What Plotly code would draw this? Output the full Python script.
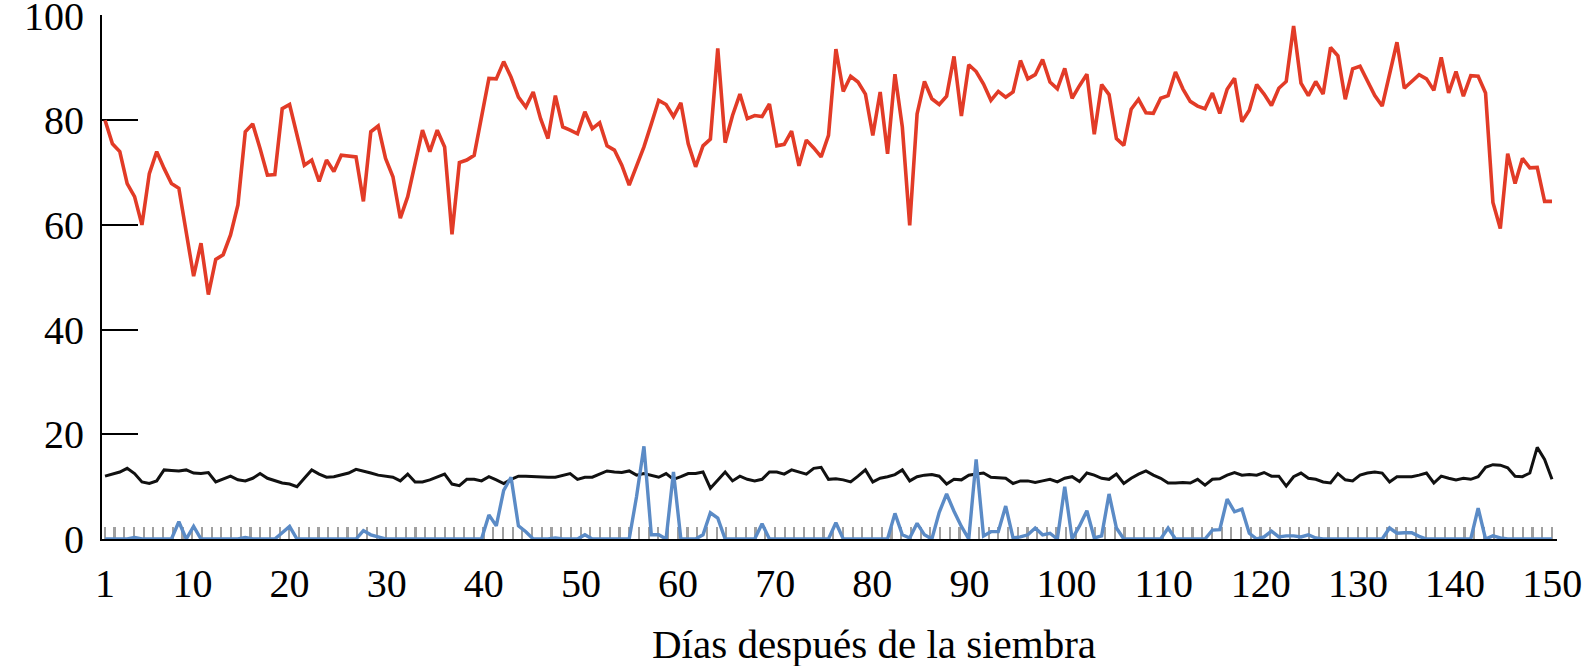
import plotly.graph_objects as go

# ---- data ----
days = list(range(1, 151))
day_ticks = [1, 10, 20, 30, 40, 50, 60, 70, 80, 90, 100, 110, 120, 130, 140, 150]
gray_marks = [2.2] * 150  # small grey daily marks along the bottom

red = [
    80.0, 75.5, 74.0, 67.9, 65.4, 60.0, 69.8, 74.0, 70.8, 67.9,
    67.0, 58.8, 50.2, 56.5, 46.7, 53.4, 54.3, 58.1, 63.8, 77.8,
    79.3, 74.6, 69.5, 69.6, 82.2, 83.0, 77.1, 71.4, 72.4, 68.3,
    72.4, 70.2, 73.3, 73.1, 73.0, 64.5, 77.8, 78.9, 72.7, 69.2,
    61.3, 65.4, 71.4, 78.1, 74.0, 78.1, 74.9, 58.2, 71.9, 72.4,
    73.3, 80.9, 88.0, 87.9, 91.2, 88.2, 84.4, 82.5, 85.4, 80.3,
    76.5, 84.7, 78.7, 78.1, 77.4, 81.6, 78.4, 79.5, 75.1, 74.3,
    71.4, 67.6, 71.4, 74.9, 79.3, 83.8, 83.0, 80.7, 83.3, 75.5,
    71.1, 75.1, 76.4, 93.7, 75.7, 80.9, 85.0, 80.3, 80.9, 80.7,
    83.1, 75.1, 75.4, 77.9, 71.3, 76.2, 74.7, 73.0, 77.1, 93.6,
    85.5, 88.4, 87.3, 85.0, 77.1, 85.4, 73.6, 88.8, 78.7, 59.9,
    81.2, 87.4, 84.1, 83.0, 84.6, 92.2, 80.8, 90.6, 89.3, 86.9,
    83.8, 85.5, 84.4, 85.4, 91.4, 87.9, 88.7, 91.6, 87.3, 86.0,
    89.9, 84.2, 86.6, 88.8, 77.3, 86.8, 84.9, 76.5, 75.2, 82.1,
    84.0, 81.4, 81.3, 84.2, 84.7, 89.2, 86.0, 83.6, 82.7, 82.2,
    85.2, 81.3, 85.9, 88.0, 79.7, 81.9, 86.8, 85.0, 82.8, 86.1,
    87.4, 98.0, 87.1, 84.7, 87.4, 85.0, 93.9, 92.3, 84.0, 89.8,
    90.3, 87.6, 84.7, 82.7, 88.7, 94.9, 86.1, 87.3, 88.7, 87.9,
    85.7, 92.0, 85.2, 89.3, 84.6, 88.5, 88.4, 85.2, 64.3, 59.3,
    73.6, 67.9, 72.7, 70.9, 71.0, 64.5, 64.5,
]

black = [
    12.0, 12.4, 12.8, 13.5, 12.5, 10.9, 10.6, 11.1, 13.2, 13.1,
    13.0, 13.2, 12.6, 12.5, 12.7, 10.9, 11.4, 12.0, 11.3, 11.1,
    11.6, 12.5, 11.6, 11.1, 10.7, 10.5, 10.0, 11.6, 13.2, 12.4,
    11.8, 11.9, 12.2, 12.6, 13.3, 13.0, 12.6, 12.2, 12.0, 11.8,
    11.1, 12.4, 10.9, 10.9, 11.3, 11.8, 12.4, 10.5, 10.2, 11.4,
    11.4, 11.1, 11.9, 11.3, 10.6, 11.4, 12.0, 12.0, 11.9, 11.8,
    11.8, 11.8, 12.2, 12.5, 11.4, 11.8, 11.8, 12.4, 13.0, 12.8,
    12.7, 13.0, 12.2, 12.5, 12.2, 11.8, 12.5, 11.4, 11.9, 12.5,
    12.5, 12.8, 9.7, 11.3, 12.8, 11.1, 12.0, 11.4, 11.1, 11.4,
    12.8, 12.8, 12.4, 13.2, 12.8, 12.4, 13.5, 13.7, 11.4, 11.5,
    11.3, 10.9, 12.0, 13.2, 10.9, 11.6, 11.9, 12.3, 13.2, 11.1,
    11.9, 12.2, 12.3, 12.0, 10.5, 11.4, 11.3, 12.2, 12.4, 12.6,
    11.8, 11.7, 11.6, 10.6, 11.1, 11.1, 10.8, 11.1, 11.4, 10.9,
    11.6, 11.9, 11.0, 12.6, 12.2, 11.6, 11.4, 12.4, 10.6, 11.6,
    12.4, 13.0, 12.2, 11.6, 10.7, 10.7, 10.8, 10.7, 11.4, 10.3,
    11.4, 11.5, 12.2, 12.7, 12.2, 12.3, 12.2, 12.7, 12.0, 12.0,
    10.1, 11.9, 12.6, 11.6, 11.4, 10.9, 10.7, 12.5, 11.3, 11.1,
    12.2, 12.6, 12.8, 12.6, 10.9, 11.9, 11.9, 11.9, 12.2, 12.6,
    10.7, 12.0, 11.6, 11.3, 11.6, 11.4, 11.9, 13.7, 14.2, 14.1,
    13.6, 12.0, 11.9, 12.6, 17.5, 15.2, 11.4,
]

blue = [
    0, 0, 0, 0, 0.3, 0, 0, 0, 0, 0,
    3.3, 0, 2.4, 0, 0, 0, 0, 0, 0, 0.3,
    0, 0, 0, 0, 1.2, 2.4, 0, 0, 0, 0,
    0, 0, 0, 0, 0, 1.6, 0.8, 0.4, 0, 0,
    0, 0, 0, 0, 0, 0, 0, 0, 0, 0,
    0, 0, 4.6, 2.5, 9.3, 11.8, 2.5, 1.4, 0, 0,
    0, 0.2, 0, 0, 0, 0.8, 0, 0, 0, 0,
    0, 0, 8.1, 17.7, 0.8, 0.8, 0, 12.8, 0, 0,
    0, 0.8, 5.0, 4.0, 0, 0, 0, 0, 0, 2.9,
    0, 0, 0, 0, 0, 0, 0, 0, 0, 3.1,
    0, 0, 0, 0, 0, 0, 0, 4.9, 0.8, 0.2,
    3.0, 0.8, 0, 5.1, 8.6, 5.3, 2.4, 0, 15.2, 0.6,
    1.4, 1.4, 6.3, 0.2, 0.4, 0.8, 2.1, 0.8, 1.1, 0,
    10.0, 0, 2.5, 5.4, 0.2, 0.6, 8.6, 2.1, 0, 0,
    0, 0, 0, 0, 2.1, 0, 0, 0, 0, 0,
    1.7, 1.8, 7.6, 5.2, 5.7, 1.1, 0, 0.4, 1.5, 0.4,
    0.6, 0.6, 0.4, 0.8, 0.2, 0, 0, 0, 0, 0,
    0, 0, 0, 0, 2.1, 1.1, 1.2, 1.2, 0.5, 0,
    0, 0, 0, 0, 0, 0, 5.9, 0, 0.6, 0.2,
    0, 0, 0, 0, 0, 0, 0,
]

samples = list(range(len(red)))  # observation index along the season
y_ticks = [0, 20, 40, 60, 80, 100]

FONT = "Liberation Serif"

fig = go.Figure()
fig.add_trace(go.Bar(x=days, y=gray_marks, width=0.17, marker=dict(color="#a0a0a0", line=dict(width=0)),
                     xaxis="x", yaxis="y", showlegend=False))
fig.add_trace(go.Scatter(x=samples, y=black, mode="lines", line=dict(color="#111111", width=3),
                         xaxis="x2", yaxis="y", cliponaxis=False, showlegend=False))
fig.add_trace(go.Scatter(x=samples, y=blue, mode="lines", line=dict(color="#5b8bc6", width=3.4),
                         xaxis="x2", yaxis="y", cliponaxis=False, showlegend=False))
fig.add_trace(go.Scatter(x=samples, y=red, mode="lines", line=dict(color="#e23b27", width=3.6),
                         xaxis="x2", yaxis="y", cliponaxis=False, showlegend=False))

n = len(red)
fig.update_layout(
    width=1590, height=666,
    margin=dict(l=102, r=33, t=15, b=127, autoexpand=False),
    paper_bgcolor="white", plot_bgcolor="white",
    showlegend=False, bargap=0,
    xaxis=dict(range=[0.69, 150.5], tickvals=day_ticks, ticktext=[str(v) for v in day_ticks],
               ticks="", showline=True, linecolor="black", linewidth=2, showgrid=False, zeroline=False,
               tickfont=dict(family=FONT, size=40, color="black"), ticklabelstandoff=8,
               ticklabeloverflow="allow", automargin=False, layer="below traces"),
    xaxis2=dict(range=[-0.41, n - 1 + 0.68], overlaying="x", anchor="y", visible=False,
                showgrid=False, zeroline=False, automargin=False),
    yaxis=dict(range=[0, 100.1], tickvals=y_ticks, ticks="inside", ticklen=36, tickwidth=2,
               tickcolor="black", showline=True, linecolor="black", linewidth=2,
               showgrid=False, zeroline=False, tickfont=dict(family=FONT, size=40, color="black"),
               ticklabelstandoff=8, ticklabeloverflow="allow", automargin=False,
               layer="below traces"),
    annotations=[dict(text="Días después de la siembra", xref="paper", yref="paper",
                      x=0.5306, y=-0.2, xanchor="center", yanchor="middle", showarrow=False,
                      font=dict(family=FONT, size=41, color="black"))],
)

fig.write_html("out.html")
